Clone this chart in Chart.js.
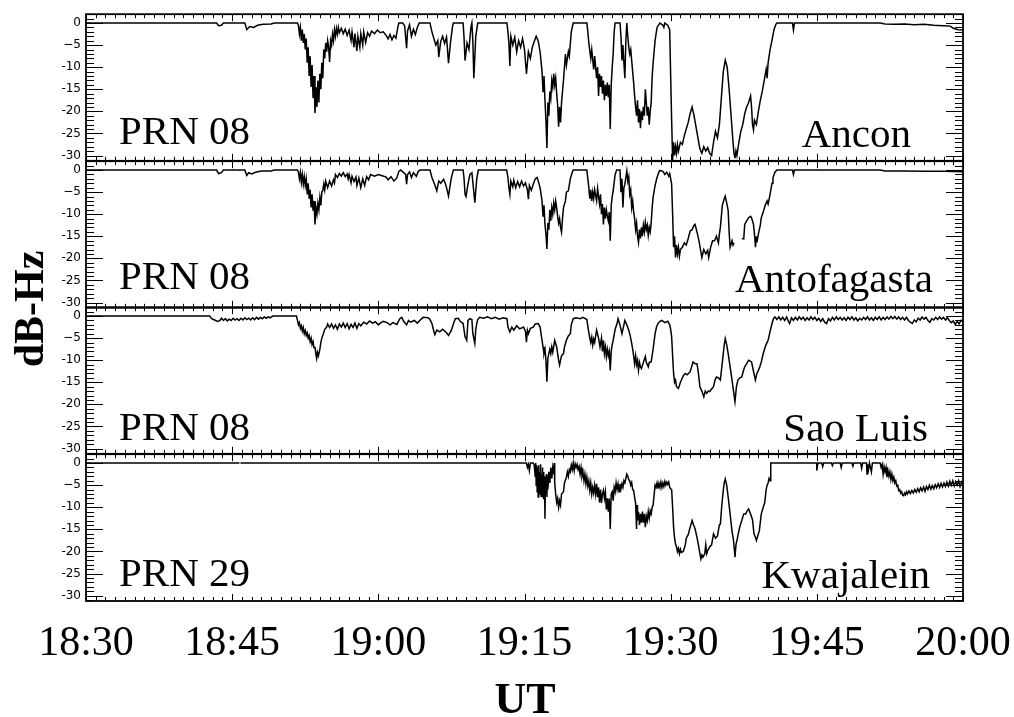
<!DOCTYPE html>
<html>
<head>
<meta charset="utf-8">
<script src="https://cdn.jsdelivr.net/npm/chart.js@4.4.1/dist/chart.umd.min.js"></script>
<style>
  html, body { margin: 0; padding: 0; background: #fff; }
  #fig { position: relative; width: 1014px; height: 717px; overflow: hidden; background: #fff; }
  #fig canvas { position: absolute; left: 0; }
  #overlay { pointer-events: none; }
</style>
</head>
<body>
<div id="fig">
  <canvas id="p0" width="1014" height="171" style="top:2px"></canvas>
  <canvas id="p1" width="1014" height="171" style="top:149px"></canvas>
  <canvas id="p2" width="1014" height="171" style="top:295px"></canvas>
  <canvas id="p3" width="1014" height="275" style="top:442px"></canvas>
  <canvas id="overlay" width="1014" height="717" style="top:0"></canvas>
</div>
<script>
// ---- axis ticks and labels ----
const timeTicks = [0, 15, 30, 45, 60, 75, 90];              // minutes after 18:30 UT
const timeTickLabels = ['18:30', '18:45', '19:00', '19:15', '19:30', '19:45', '20:00'];
const yTicks = [0, -5, -10, -15, -20, -25, -30];
const yTickLabels = ['0', '\u22125', '-10', '-15', '-20', '-25', '-30'];
const prnLabels = ['PRN 08', 'PRN 08', 'PRN 08', 'PRN 29'];
const stations = ['Ancon', 'Antofagasta', 'Sao Luis', 'Kwajalein'];

// ---- signal fading traces: [minutes after 18:30, dB-Hz] ----
const ancon = [
 [0,0],[13.4,0],[13.6,-0.6],[13.9,-0.5],[14.1,0],[16.3,0],[16.5,-1.5],[16.8,-0.8],[17.2,-1.0],[17.6,-0.5],[18.2,-0.3],[19.0,-0.2],[19.3,0],[21.7,0],
 [21.8,-0.5],[21.9,-2.5],[22.0,-1.0],[22.1,-4.0],[22.2,-1.5],[22.3,-4.5],[22.4,-2.5],[22.5,-6.0],[22.6,-3.5],[22.7,-9.0],[22.8,-5.5],[22.9,-12.0],
 [23.0,-7.5],[23.1,-14.5],[23.2,-9.5],[23.3,-17.0],[23.4,-12.0],[23.5,-20.4],[23.6,-14.5],[23.7,-19.0],[23.8,-13.0],[23.9,-18.0],[24.0,-11.5],
 [24.1,-15.0],[24.2,-9.0],[24.3,-12.5],[24.4,-6.0],[24.5,-8.0],[24.6,-4.5],[24.7,-6.5],[24.8,-4.0],[24.9,-5.5],[25.0,-8.8],[25.1,-4.0],[25.2,-5.0],
 [25.3,-2.5],[25.4,-4.0],[25.5,-1.5],[25.6,-3.0],[25.7,-1.2],[25.8,-2.5],[25.9,-1.0],[26.0,-2.2],[26.2,-1.2],[26.4,-2.4],[26.6,-1.4],[26.8,-2.8],
 [27.0,-1.6],[27.2,-4.0],[27.3,-2.0],[27.5,-5.5],[27.6,-2.4],[27.8,-6.3],[27.9,-3.0],[28.1,-5.5],[28.2,-2.4],[28.4,-5.0],[28.5,-2.0],[28.7,-4.4],
 [28.9,-2.2],[29.1,-3.0],[29.3,-1.8],[29.6,-2.4],[29.9,-1.6],[30.2,-2.2],[30.5,-2.0],[30.8,-2.8],[31.0,-3.6],[31.2,-2.6],[31.4,-3.8],[31.6,-2.8],
 [31.8,-3.4],[32.0,-1.0],[32.1,0],[32.5,0],[32.7,-0.6],[32.9,-5.7],[33.0,-1.8],[33.2,-0.4],[33.4,-3.0],[33.6,-1.4],[33.8,-2.6],[34.0,-1.0],[34.2,0],
 [35.3,0],[35.5,-2.0],[35.7,-3.5],[35.9,-5.0],[36.1,-4.0],[36.2,-7.7],[36.4,-4.2],[36.6,-3.0],[36.8,-4.6],[37.0,-3.2],[37.1,-6.0],[37.2,-9.1],
 [37.4,-4.5],[37.6,-1.0],[37.7,0],[38.7,0],[38.8,-3.5],[38.9,-8.5],[39.1,-4.5],[39.3,-6.0],[39.5,-1.0],[39.6,0],[39.7,-4.0],[39.8,-12.5],[40.0,-3.0],
 [40.2,0],[43.2,0],[43.3,-2.0],[43.4,-4.5],[43.5,-9.7],[43.6,-3.0],[43.8,-5.0],[44.0,-3.2],[44.2,-6.5],[44.4,-4.0],[44.6,-5.5],[44.8,-3.5],[45.0,-6.0],
 [45.2,-11.5],[45.4,-6.5],[45.6,-8.0],[45.8,-5.5],[46.0,-4.2],[46.2,-3.0],[46.4,-4.0],[46.6,-6.5],[46.8,-11.0],[46.9,-15.5],[47.0,-12.0],[47.1,-17.5],
 [47.2,-22.0],[47.3,-28.3],[47.4,-18.0],[47.5,-21.0],[47.6,-15.5],[47.7,-17.0],[47.8,-13.0],[47.9,-14.5],[48.0,-11.5],[48.1,-14.0],[48.2,-12.5],
 [48.3,-16.0],[48.4,-18.5],[48.5,-23.5],[48.6,-19.0],[48.7,-22.5],[48.8,-18.0],[49.0,-13.0],[49.2,-7.0],[49.3,-9.5],[49.5,-6.5],[49.6,-7.5],[49.8,-2.0],
 [50.0,0],[51.4,0],[51.5,-2.0],[51.6,-4.5],[51.8,-8.0],[51.9,-6.0],[52.1,-10.5],[52.2,-7.5],[52.4,-12.5],[52.5,-10.0],[52.6,-16.5],[52.7,-11.5],
 [52.8,-14.5],[52.9,-12.0],[53.0,-16.0],[53.1,-13.0],[53.2,-17.5],[53.3,-14.0],[53.4,-16.5],[53.5,-13.5],[53.6,-16.8],[53.7,-14.0],[53.8,-24.0],
 [53.9,-14.0],[54.0,-10.0],[54.1,-7.0],[54.2,-2.0],[54.3,0],[54.8,0],[54.9,-3.0],[55.0,-8.5],[55.1,-5.0],[55.2,-9.0],[55.3,-12.5],[55.4,-4.0],[55.5,0],
 [55.6,-3.0],[55.7,-5.5],[55.8,-7.0],[55.9,-6.0],[56.0,-8.5],[56.1,-11.0],[56.2,-13.5],[56.3,-16.5],[56.4,-19.0],[56.5,-21.0],[56.6,-17.5],[56.7,-22.5],
 [56.8,-19.5],[56.9,-23.8],[57.0,-20.0],[57.1,-22.0],[57.2,-19.0],[57.3,-21.0],[57.4,-15.0],[57.5,-18.0],[57.6,-21.0],[57.7,-19.0],[57.8,-23.0],
 [57.9,-20.0],[58.0,-18.0],[58.1,-12.2],[58.2,-9.0],[58.3,-6.5],[58.4,-4.0],[58.5,-2.5],[58.6,-1.0],[58.8,-0.3],[58.9,0],[59.2,-0.5],[59.3,-1.0],
 [59.4,0],[59.7,-0.5],[59.9,-1.5],[60.0,-12.0],[60.1,-22.0],[60.2,-31.0],[60.3,-27.0],[60.4,-30.0],[60.5,-28.0],[60.6,-29.5],[60.7,-27.5],[60.8,-29.0],
 [61.0,-27.0],[61.2,-27.5],[61.4,-25.5],[61.6,-24.0],[61.8,-22.5],[62.0,-20.5],[62.2,-19.0],[62.4,-21.0],[62.6,-23.5],[62.8,-26.0],[63.0,-28.5],
 [63.2,-29.5],[63.4,-28.0],[63.6,-29.0],[63.8,-28.2],[64.0,-29.5],[64.2,-30.0],[64.4,-27.0],[64.6,-24.5],[64.8,-26.0],[65.0,-23.0],[65.2,-17.0],
 [65.4,-11.0],[65.6,-8.4],[65.8,-10.0],[66.0,-15.0],[66.2,-21.0],[66.4,-27.0],[66.5,-29.5],[66.6,-30.6],[66.7,-29.0],[66.8,-30.0],[67.0,-27.0],
 [67.2,-24.5],[67.4,-23.0],[67.6,-20.5],[67.8,-19.0],[68.0,-18.0],[68.2,-16.5],[68.3,-19.0],[68.4,-23.0],[68.5,-24.2],[68.6,-22.0],[68.8,-23.0],
 [69.0,-20.0],[69.2,-17.5],[69.4,-15.5],[69.6,-13.0],[69.8,-10.5],[69.9,-12.5],[70.0,-9.0],[70.2,-6.0],[70.4,-3.9],[70.6,-1.5],[70.8,-0.3],[70.9,0],
 [72.5,0],[72.6,-1.6],[72.7,0],[81.5,0],[82.0,-0.2],[83.0,-0.3],[84.0,-0.2],[85.0,-0.4],[86.0,-0.3],[87.0,-0.5],[88.0,-0.6],[88.7,-0.7],[89.0,-1.2],
 [89.5,-1.5],[90,-1.6]
];

const antofagasta = [
 [0,0],[13.4,0],[13.6,-0.8],[13.9,-0.6],[14.1,0],[16.3,0],[16.5,-1.2],[16.7,-0.6],[17.0,-0.9],[17.4,-0.5],[18.0,-0.2],[19.0,-0.2],[19.3,0],[21.7,0],
 [21.8,-0.5],[21.9,-2.0],[22.0,-0.5],[22.1,-2.8],[22.2,-1.0],[22.3,-3.2],[22.4,-1.5],[22.5,-3.5],[22.6,-2.0],[22.7,-5.5],[22.8,-3.0],[22.9,-6.5],
 [23.0,-4.5],[23.1,-8.5],[23.2,-5.5],[23.3,-9.2],[23.4,-7.0],[23.5,-12.3],[23.6,-8.5],[23.7,-10.0],[23.8,-7.5],[23.9,-9.0],[24.0,-6.2],[24.1,-8.0],
 [24.2,-5.0],[24.3,-4.7],[24.4,-3.2],[24.5,-4.5],[24.6,-2.5],[24.8,-4.0],[25.0,-2.5],[25.2,-3.6],[25.4,-2.2],[25.5,-2.9],[25.6,-1.0],[25.8,-1.7],
 [26.0,-0.8],[26.2,-1.4],[26.4,-0.6],[26.6,-1.5],[26.8,-0.9],[26.9,-2.0],[27.0,-1.0],[27.2,-2.9],[27.3,-1.4],[27.5,-2.6],[27.7,-1.6],[27.8,-3.5],
 [28.0,-1.8],[28.2,-4.0],[28.4,-2.0],[28.6,-3.5],[28.8,-1.5],[29.0,-2.2],[29.2,-1.0],[29.6,-1.4],[30.0,-1.0],[30.4,-1.3],[30.8,-1.6],[31.0,-2.2],
 [31.3,-1.5],[31.6,-2.5],[31.9,-1.8],[32.1,-0.3],[32.3,0],[32.6,-0.6],[32.8,-1.0],[32.9,-3.2],[33.0,-1.0],[33.2,-0.4],[33.4,-1.7],[33.6,-0.6],
 [33.9,-1.4],[34.1,-0.3],[34.3,0],[35.3,0],[35.5,-1.7],[35.7,-2.8],[35.9,-4.0],[36.0,-4.7],[36.2,-2.5],[36.4,-3.0],[36.7,-2.1],[36.9,-3.2],[37.0,-4.0],
 [37.2,-5.9],[37.4,-3.0],[37.5,-1.7],[37.7,0],[38.7,0],[38.8,-2.0],[38.9,-5.5],[39.0,-6.0],[39.2,-3.2],[39.4,-1.0],[39.6,-0.6],[39.8,-5.0],[39.9,-7.4],
 [40.1,-2.0],[40.26,0],[43.17,0],[43.3,-1.7],[43.4,-4.0],[43.5,-5.5],[43.6,-2.5],[43.8,-3.8],[43.9,-2.3],[44.1,-4.0],[44.3,-2.6],[44.5,-3.8],
 [44.7,-2.5],[44.9,-3.6],[45.1,-2.9],[45.3,-4.5],[45.4,-6.6],[45.5,-3.5],[45.7,-4.6],[45.9,-3.2],[46.1,-2.0],[46.3,-1.7],[46.4,-2.4],[46.6,-4.0],
 [46.8,-7.0],[46.9,-10.4],[47.0,-8.0],[47.1,-12.3],[47.2,-14.5],[47.3,-17.9],[47.4,-12.0],[47.5,-13.5],[47.6,-9.0],[47.7,-11.5],[47.8,-8.5],
 [47.9,-10.0],[48.0,-7.5],[48.1,-9.0],[48.2,-7.0],[48.3,-8.5],[48.4,-10.5],[48.5,-12.0],[48.6,-11.0],[48.7,-13.0],[48.8,-14.1],[48.9,-11.0],
 [49.0,-8.5],[49.2,-7.0],[49.3,-5.0],[49.5,-4.7],[49.7,-2.0],[49.9,-0.5],[50.0,0],[51.4,0],[51.5,-2.0],[51.6,-4.0],[51.7,-6.5],[51.8,-4.5],[51.9,-7.0],
 [52.0,-5.0],[52.1,-6.5],[52.2,-4.5],[52.4,-7.0],[52.5,-4.2],[52.6,-6.0],[52.7,-7.7],[52.8,-5.5],[52.9,-10.0],[53.0,-7.7],[53.1,-12.3],[53.2,-8.5],
 [53.3,-11.0],[53.4,-9.0],[53.5,-10.4],[53.6,-11.5],[53.7,-9.5],[53.8,-16.0],[53.9,-8.0],[54.0,-6.0],[54.1,-4.7],[54.3,-1.0],[54.46,0],[54.8,0],
 [54.9,-5.0],[55.0,-2.0],[55.1,-8.5],[55.2,-4.0],[55.3,-3.2],[55.4,-1.7],[55.5,-0.2],[55.6,-2.5],[55.7,-1.5],[55.8,-5.5],[55.9,-4.5],[56.0,-8.5],
 [56.1,-7.0],[56.2,-9.5],[56.3,-11.0],[56.4,-13.5],[56.5,-12.0],[56.6,-15.0],[56.7,-16.4],[56.8,-13.5],[56.9,-15.5],[57.0,-13.0],[57.1,-15.0],
 [57.2,-12.5],[57.3,-14.0],[57.4,-11.8],[57.5,-13.5],[57.6,-12.5],[57.7,-14.8],[57.8,-13.0],[57.9,-14.0],[58.0,-12.0],[58.1,-8.5],[58.2,-6.2],
 [58.4,-3.5],[58.6,-1.7],[58.8,-0.4],[58.9,-0.1],[59.2,-0.3],[59.4,-1.0],[59.6,-0.5],[59.8,-1.4],[59.9,-0.8],[60.1,-3.2],[60.2,-10.0],[60.3,-17.5],
 [60.4,-15.0],[60.5,-19.8],[60.6,-17.0],[60.7,-19.0],[60.8,-17.5],[60.9,-19.5],[61.0,-18.0],[61.2,-17.5],[61.4,-16.5],[61.6,-17.0],[61.8,-15.5],
 [62.0,-13.8],[62.2,-13.5],[62.4,-12.5],[62.5,-12.3],[62.7,-14.0],[62.9,-16.0],[63.1,-18.5],[63.2,-19.8],[63.4,-18.0],[63.6,-19.0],[63.8,-18.2],
 [63.9,-19.8],[64.1,-17.5],[64.3,-16.0],[64.5,-16.0],[64.7,-15.0],[64.9,-16.5],[65.0,-14.5],[65.1,-13.0],[65.3,-8.0],[65.5,-6.5],[65.6,-5.9],
 [65.8,-8.0],[65.9,-9.2],[66.0,-14.0],[66.1,-17.5],[66.3,-16.0],[66.4,-17.0],[66.5,-16.5],[66.6,null],[67.3,-15.5],[67.5,-15.6],[67.6,-12.3],
 [67.8,-11.5],[68.0,-10.8],[68.2,-10.5],[68.3,-10.8],[68.5,-12.3],[68.6,-14.5],[68.7,-17.5],[68.8,-15.0],[68.85,-16.4],[69.0,-14.5],[69.2,-12.5],
 [69.3,-10.8],[69.5,-9.5],[69.7,-8.0],[69.9,-7.0],[70.0,-7.7],[70.2,-5.5],[70.4,-3.0],[70.5,-1.7],[70.7,-0.5],[70.9,0],[72.5,0],[72.6,-1.0],[72.7,0],
 [81.5,0],[82.0,-0.2],[84,-0.2],[86,-0.3],[88,-0.3],[90,-0.4]
];

const saoLuis = [
 [0,0],[12.7,0],[12.8,-0.3],[12.9,-0.6],[13.2,-0.9],[13.5,-1.2],[13.75,-1.0],[13.9,-0.5],[14.1,-1.0],[14.3,-0.6],[14.5,-1.1],[14.7,-0.7],[14.9,-1.0],
 [15.1,-0.5],[15.3,-0.9],[15.5,-0.6],[15.7,-1.0],[15.9,-0.5],[16.1,-0.9],[16.3,-0.4],[16.5,-0.8],[16.7,-0.5],[16.9,-0.9],[17.1,-0.4],[17.3,-0.8],
 [17.5,-0.3],[17.7,-0.7],[17.9,-0.3],[18.1,-0.6],[18.3,-0.2],[18.5,-0.5],[18.7,-0.2],[18.9,-0.4],[19.1,-0.1],[19.2,0],[21.6,0],
 [21.7,-1.0],[21.8,-2.0],[21.9,-1.5],[22.0,-2.8],[22.1,-2.2],[22.2,-3.4],[22.3,-2.6],[22.4,-4.0],[22.5,-3.3],[22.6,-4.4],[22.7,-3.8],[22.8,-5.0],
 [22.9,-4.4],[23.0,-5.8],[23.1,-5.0],[23.2,-6.5],[23.3,-5.8],[23.4,-7.2],[23.5,-7.0],[23.6,-8.8],[23.67,-9.6],[23.75,-8.2],[23.85,-9.0],[24.0,-7.5],
 [24.1,-6.0],[24.2,-5.0],[24.36,-4.0],[24.5,-3.0],[24.7,-2.5],[24.8,-1.8],[25.0,-2.6],[25.2,-1.8],[25.4,-2.8],[25.6,-2.0],[25.8,-3.0],[26.0,-1.8],
 [26.2,-2.5],[26.4,-1.6],[26.6,-2.6],[26.8,-1.7],[27.0,-2.9],[27.2,-1.9],[27.4,-2.6],[27.6,-1.6],[27.8,-2.8],[28.0,-1.7],[28.2,-2.2],[28.5,-1.4],
 [28.8,-1.8],[29.1,-1.1],[29.4,-1.6],[29.7,-1.3],[30.0,-2.0],[30.2,-1.6],[30.5,-1.2],[30.9,-1.5],[31.2,-2.0],[31.5,-1.5],[31.9,-1.9],[32.2,-0.6],
 [32.4,-0.3],[32.6,-1.2],[32.9,-2.0],[33.1,-1.0],[33.3,-1.4],[33.7,-1.0],[34.0,-1.6],[34.3,-0.9],[34.6,-0.3],[35.1,-0.4],[35.3,-0.8],[35.5,-1.7],
 [35.7,-3.5],[35.8,-4.2],[36.0,-3.2],[36.3,-3.6],[36.6,-3.0],[37.0,-3.8],[37.2,-4.4],[37.5,-3.2],[37.7,-1.8],[37.9,-0.6],[38.2,-0.5],[38.4,-1.2],
 [38.7,-1.7],[38.8,-3.2],[38.9,-4.7],[39.07,-5.5],[39.2,-1.0],[39.4,-0.6],[39.6,-0.8],[39.7,-4.0],[39.9,-6.2],[40.0,-3.0],[40.1,-1.7],[40.2,-0.8],
 [40.4,-0.3],[40.8,-0.5],[41.2,-0.2],[41.6,-0.6],[42.0,-0.3],[42.4,-0.7],[42.8,-0.4],[43.2,-0.6],[43.3,-2.5],[43.5,-3.6],[43.7,-2.5],[43.9,-3.2],
 [44.2,-2.2],[44.5,-2.9],[44.9,-2.5],[45.1,-3.5],[45.2,-5.9],[45.3,-3.2],[45.4,-4.0],[45.6,-2.8],[45.9,-2.5],[46.1,-1.8],[46.4,-1.7],[46.6,-2.5],
 [46.8,-5.5],[46.9,-7.0],[47.0,-8.5],[47.1,-7.5],[47.2,-10.0],[47.3,-14.9],[47.4,-9.5],[47.5,-8.5],[47.6,-7.5],[47.7,-8.5],[47.8,-7.0],[47.9,-8.2],
 [48.1,-5.5],[48.3,-7.0],[48.4,-8.5],[48.5,-10.0],[48.6,-11.1],[48.7,-10.0],[48.8,-9.0],[49.0,-8.5],[49.1,-7.0],[49.3,-5.5],[49.5,-4.5],[49.7,-4.0],
 [49.8,-2.0],[50.0,-0.6],[50.3,-0.4],[50.7,-0.6],[51.0,-0.3],[51.4,-0.8],[51.56,-3.2],[51.7,-5.0],[51.8,-6.0],[51.9,-4.8],[52.0,-6.6],[52.1,-5.2],
 [52.2,-6.0],[52.4,-3.2],[52.6,-5.0],[52.75,-7.0],[52.9,-5.0],[53.0,-8.0],[53.1,-5.5],[53.2,-8.5],[53.3,-7.0],[53.4,-9.2],[53.5,-7.5],[53.6,-9.0],
 [53.7,-8.0],[53.8,-12.3],[53.9,-8.0],[54.0,-6.5],[54.1,-5.5],[54.3,-3.0],[54.5,-1.7],[54.6,-0.6],[54.8,-2.0],[55.0,-4.0],[55.2,-2.0],[55.3,-1.0],
 [55.5,-2.0],[55.7,-3.2],[55.85,-4.5],[56.0,-6.2],[56.1,-7.5],[56.2,-9.0],[56.3,-10.8],[56.4,-9.0],[56.5,-11.0],[56.6,-10.0],[56.7,-12.3],[56.8,-10.5],
 [56.9,-11.5],[57.0,-11.9],[57.2,-10.5],[57.4,-9.2],[57.5,-10.5],[57.7,-11.5],[57.8,-10.5],[58.0,-10.4],[58.2,-7.5],[58.4,-4.0],[58.55,-2.5],
 [58.7,-1.7],[58.9,-1.2],[59.1,-1.0],[59.4,-1.5],[59.7,-1.2],[59.9,-2.0],[60.0,-3.0],[60.1,-4.7],[60.2,-9.0],[60.3,-13.0],[60.4,-15.0],[60.5,-14.5],
 [60.6,-16.0],[60.8,-16.4],[61.0,-15.0],[61.1,-14.5],[61.3,-13.5],[61.5,-13.0],[61.7,-13.3],[62.0,-12.6],[62.15,-11.5],[62.3,-10.4],[62.5,-10.8],
 [62.7,-10.8],[62.85,-13.0],[63.0,-16.0],[63.2,-17.0],[63.4,-18.3],[63.55,-17.0],[63.7,-17.5],[63.85,-17.0],[64.0,-17.1],[64.2,-16.5],[64.4,-16.0],
 [64.55,-14.5],[64.7,-13.8],[64.9,-14.0],[65.1,-14.5],[65.25,-11.5],[65.4,-8.5],[65.5,-6.5],[65.6,-5.1],[65.75,-6.5],[65.9,-8.5],[66.1,-11.5],
 [66.3,-14.5],[66.45,-17.0],[66.6,-19.4],[66.75,-16.0],[66.9,-14.5],[67.1,-14.0],[67.3,-13.8],[67.45,-12.5],[67.6,-11.5],[67.8,-10.8],[68.0,-10.0],
 [68.15,-10.2],[68.3,-10.4],[68.5,-12.5],[68.7,-14.5],[68.85,-13.0],[69.0,-12.3],[69.15,-11.5],[69.3,-10.4],[69.5,-8.5],[69.7,-7.0],[69.85,-6.2],
 [70.0,-5.5],[70.2,-3.5],[70.4,-1.7],[70.55,-0.6],[70.7,-0.2],[70.9,-0.8],[71.1,-0.2],[71.3,-0.9],[71.5,-0.3],[71.7,-1.0],[71.9,-0.2],[72.1,-1.3],
 [72.2,-1.7],[72.4,-0.4],[72.6,-1.0],[72.8,-0.3],[73.0,-0.9],[73.2,-0.2],[73.4,-0.8],[73.6,-0.3],[73.8,-1.0],[74.0,-0.4],[74.2,-0.9],[74.4,-0.2],
 [74.6,-0.8],[74.8,-0.3],[75.0,-1.0],[75.2,-0.5],[75.4,-1.2],[75.6,-0.6],[75.8,-1.4],[76.0,-1.7],[76.2,-0.6],[76.4,-1.1],[76.6,-0.3],[76.8,-0.9],
 [77.0,-0.2],[77.2,-0.8],[77.4,-0.3],[77.6,-0.9],[77.8,-0.4],[78.0,-1.0],[78.2,-0.3],[78.4,-0.8],[78.6,-0.2],[78.8,-0.9],[79.0,-0.4],[79.2,-1.1],
 [79.4,-0.5],[79.6,-0.9],[79.8,-0.3],[80.0,-0.8],[80.2,-0.2],[80.4,-0.9],[80.6,-0.4],[80.8,-1.0],[81.0,-0.3],[81.2,-0.8],[81.4,-0.2],[81.6,-0.9],
 [81.8,-0.3],[82.0,-0.8],[82.2,-0.2],[82.4,-0.7],[82.6,-0.1],[82.8,-0.6],[83.0,-0.1],[83.2,-0.7],[83.4,-0.2],[83.6,-0.8],[83.8,-0.3],[84.0,-0.9],
 [84.2,-0.3],[84.4,-1.0],[84.6,-1.4],[84.8,-1.7],[85.0,-0.9],[85.2,-1.3],[85.4,-0.5],[85.6,-0.9],[85.8,-0.2],[86.0,-0.7],[86.2,-0.3],[86.4,-1.0],
 [86.6,-1.4],[86.8,-0.6],[87.0,-0.9],[87.2,-0.3],[87.4,-0.8],[87.6,-0.2],[87.8,-0.7],[88.0,-0.3],[88.2,-0.9],[88.4,-0.4],[88.6,-1.0],[88.8,-1.5],
 [89.0,-1.1],[89.2,-1.9],[89.4,-1.2],[89.6,-1.8],[89.8,-1.0],[90.0,-1.3]
];

const kwajalein = [
 [0,0],[15.75,0],[15.8,null],[15.85,0],[45.2,0],[45.3,-1.0],[45.4,-0.3],[45.5,-1.7],[45.6,0],[45.9,0],[46.0,-0.5],[46.1,-3.0],[46.15,0],[46.2,-5.0],
 [46.25,-0.5],[46.3,-6.5],[46.35,-1.0],[46.4,-7.7],[46.45,-0.5],[46.5,-7.0],[46.55,-2.0],[46.6,-6.0],[46.65,-0.3],[46.7,-7.5],[46.75,-2.5],[46.8,-5.5],
 [46.85,-1.0],[46.9,-7.7],[46.95,-2.0],[47.0,-8.0],[47.05,-3.0],[47.1,-12.6],[47.15,-3.5],[47.2,-7.0],[47.25,-2.5],[47.3,-7.7],[47.35,-3.0],
 [47.4,-6.0],[47.5,-2.0],[47.6,-4.5],[47.7,-1.0],[47.8,-3.5],[47.9,-1.0],[48.0,-2.5],[48.05,0],[48.1,-4.5],[48.2,-7.0],[48.3,-8.9],[48.4,-8.0],
 [48.5,-10.0],[48.6,-8.5],[48.7,-9.5],[48.8,-7.0],[49.0,-6.5],[49.1,-4.5],[49.3,-3.2],[49.4,-2.0],[49.5,-3.0],[49.6,-1.5],[49.7,-2.0],[49.8,-0.5],
 [49.9,-1.5],[50.0,0],[50.1,-1.7],[50.2,-0.2],[50.3,-1.0],[50.4,-0.3],[50.5,-1.5],[50.6,-0.8],[50.7,-2.5],[50.8,-1.0],[50.9,-3.0],[51.0,-2.0],
 [51.1,-4.0],[51.2,-2.5],[51.3,-4.7],[51.4,-3.2],[51.5,-5.2],[51.6,-4.0],[51.7,-6.2],[51.8,-4.5],[51.9,-7.0],[52.0,-5.5],[52.1,-6.8],[52.2,-5.0],
 [52.3,-7.0],[52.4,-4.7],[52.5,-7.7],[52.6,-5.5],[52.7,-8.9],[52.8,-6.0],[52.9,-9.0],[53.0,-7.0],[53.1,-6.2],[53.2,-8.0],[53.3,-6.5],[53.4,-10.5],
 [53.5,-8.0],[53.6,-11.0],[53.7,-8.0],[53.8,-14.9],[53.9,-7.0],[54.0,-6.5],[54.1,-8.5],[54.2,-5.5],[54.3,-6.5],[54.4,-4.5],[54.5,-6.0],[54.6,-4.7],
 [54.7,-6.5],[54.8,-4.7],[54.9,-5.8],[55.0,-4.7],[55.1,-5.5],[55.2,-4.0],[55.3,-4.5],[55.5,-2.5],[55.6,-3.0],[55.7,-3.8],[55.8,-4.0],[55.9,-5.0],
 [56.0,-4.4],[56.1,-6.0],[56.2,-6.2],[56.3,-7.7],[56.4,-9.0],[56.45,-12.0],[56.5,-14.9],[56.55,-9.5],[56.6,-13.0],[56.7,-11.0],[56.8,-14.0],
 [56.9,-11.5],[57.0,-13.5],[57.1,-11.0],[57.2,-13.5],[57.3,-11.5],[57.4,-14.5],[57.5,-12.0],[57.6,-13.0],[57.7,-11.0],[57.8,-12.5],[57.9,-10.8],
 [58.0,-11.5],[58.1,-10.0],[58.2,-9.5],[58.4,-5.0],[58.5,-5.5],[58.6,-4.5],[58.7,-5.8],[58.8,-4.6],[58.9,-5.5],[59.0,-4.3],[59.1,-5.5],[59.2,-4.5],
 [59.3,-5.3],[59.4,-4.2],[59.5,-5.0],[59.6,-4.3],[59.7,-4.8],[59.8,-4.3],[59.9,-5.5],[60.0,-5.8],[60.1,-6.0],[60.2,-10.0],[60.3,-14.5],[60.4,-17.0],
 [60.5,-18.3],[60.6,-19.0],[60.7,-20.0],[60.8,-19.3],[60.9,-20.5],[61.0,-19.5],[61.1,-20.2],[61.3,-20.0],[61.5,-18.5],[61.6,-17.0],[61.8,-16.2],
 [62.0,-14.5],[62.2,-13.0],[62.35,-14.0],[62.5,-14.8],[62.7,-16.8],[62.85,-18.5],[63.0,-20.5],[63.1,-21.7],[63.2,-20.8],[63.3,-21.3],[63.5,-20.5],
 [63.6,-18.5],[63.7,-20.5],[63.8,-19.8],[64.0,-19.0],[64.2,-18.5],[64.4,-16.0],[64.6,-17.0],[64.8,-16.5],[65.0,-14.0],[65.1,-13.8],[65.25,-9.5],
 [65.4,-6.2],[65.5,-4.5],[65.6,-3.6],[65.75,-5.0],[65.9,-7.7],[66.1,-11.5],[66.3,-15.5],[66.45,-17.5],[66.55,-20.0],[66.6,-21.3],[66.7,-18.5],
 [66.85,-17.0],[67.0,-15.3],[67.15,-14.0],[67.3,-13.0],[67.5,-11.5],[67.7,-11.5],[67.85,-10.8],[68.0,-10.4],[68.2,-11.5],[68.4,-12.8],[68.55,-16.0],
 [68.7,-16.8],[68.8,-17.5],[68.95,-16.4],[69.1,-15.3],[69.3,-11.5],[69.5,-10.0],[69.65,-9.0],[69.8,-6.0],[69.9,-5.0],[70.0,-4.5],[70.1,-3.5],
 [70.2,-4.0],[70.27,0],[74.98,0],[75.0,-1.7],[75.1,0],[75.5,0],[75.6,-0.8],[75.7,0],[76.5,0],[76.6,-0.6],[76.7,0],[77.4,0],[77.5,-1.0],[77.6,0],
 [78.6,0],[78.7,-0.7],[78.8,0],[79.5,0],[79.6,-1.2],[79.7,0],[80.1,0],[80.15,-2.5],[80.2,-0.3],[80.3,-1.5],[80.4,0],[80.6,-2.0],[80.7,0],[81.5,0],
 [81.6,-1.0],[81.7,-0.3],[81.8,-2.5],[81.9,-0.8],[82.0,-2.0],[82.1,-1.0],[82.2,-3.2],[82.3,-1.7],[82.4,-3.0],[82.5,-2.0],[82.6,-3.7],[82.7,-2.5],
 [82.8,-4.0],[82.9,-3.2],[83.0,-4.5],[83.1,-4.0],[83.2,-5.2],[83.3,-5.0],[83.4,-6.2],[83.5,-6.0],[83.6,-6.8],[83.7,-6.5],[83.8,-7.3],[83.9,-7.4],
 [84.0,-6.8],[84.1,-7.2],[84.2,-6.5],[84.3,-7.0],[84.45,-6.3],[84.6,-6.9],[84.75,-6.2],[84.9,-6.8],[85.05,-6.0],[85.2,-6.6],[85.35,-5.8],[85.5,-6.5],
 [85.65,-5.6],[85.8,-6.3],[85.95,-5.4],[86.1,-6.4],[86.25,-5.3],[86.4,-6.0],[86.55,-5.0],[86.7,-5.9],[86.85,-5.1],[87.0,-5.8],[87.15,-4.9],[87.3,-5.6],
 [87.45,-4.7],[87.6,-5.5],[87.75,-4.6],[87.9,-5.4],[88.05,-4.5],[88.2,-5.3],[88.35,-4.3],[88.5,-5.2],[88.65,-4.1],[88.8,-5.0],[88.95,-4.0],[89.1,-5.2],
 [89.25,-4.2],[89.4,-5.0],[89.55,-4.0],[89.7,-5.3],[89.85,-4.3],[90.0,-4.8]
];

const traces = [ancon, antofagasta, saoLuis, kwajalein];

// ---- layout ----
const SERIF = '"Liberation Serif", "Times New Roman", serif';
const PANEL_H = 147;
const PAD = 12;
// text placement inside each panel (pixels from the panel's left / bottom edge)
const prnPos = [[119, 17], [119, 19], [119, 14], [119, 15]];
const stationPos = [[911, 14], [933, 16], [928, 13], [930, 13]];

Chart.defaults.font.family = '"DejaVu Sans", sans-serif';
Chart.defaults.color = '#000';

// frame, inward tick marks on all four sides, and the in-panel captions
const panelDecor = {
  id: 'panelDecor',
  afterDraw(chart, args, opts) {
    const { ctx, chartArea: a, scales: { x, y } } = chart;
    ctx.save();
    ctx.strokeStyle = '#000';
    ctx.lineWidth = 1;
    ctx.beginPath();
    for (let v = -31; v <= 2; v++) {
      const py = Math.round(y.getPixelForValue(v)) + 0.5;
      const len = v % 5 === 0 ? 17 : 8;
      ctx.moveTo(a.left, py); ctx.lineTo(a.left + len, py);
      ctx.moveTo(a.right, py); ctx.lineTo(a.right - len, py);
    }
    for (let m = 0; m <= 90; m++) {
      const px = Math.round(x.getPixelForValue(m)) + 0.5;
      const len = m % 15 === 0 ? 7 : 4;
      ctx.moveTo(px, a.top); ctx.lineTo(px, a.top + len);
      ctx.moveTo(px, a.bottom); ctx.lineTo(px, a.bottom - len);
    }
    ctx.stroke();
    ctx.lineWidth = 1.8;
    ctx.strokeRect(a.left, a.top, a.right - a.left, a.bottom - a.top);

    const i = opts.index;
    ctx.fillStyle = '#000';
    ctx.font = '41px ' + SERIF;
    ctx.textBaseline = 'alphabetic';
    ctx.textAlign = 'left';
    ctx.fillText(prnLabels[i], prnPos[i][0], a.bottom - prnPos[i][1]);
    ctx.textAlign = 'right';
    ctx.fillText(stations[i], stationPos[i][0], a.bottom - stationPos[i][1]);
    ctx.restore();
  }
};

function makePanel(i) {
  const last = i === traces.length - 1;
  return new Chart(document.getElementById('p' + i), {
    type: 'line',
    data: {
      datasets: [{
        label: stations[i],
        data: traces[i],
        borderColor: '#000',
        borderWidth: 1.5,
        pointRadius: 0,
        tension: 0,
        spanGaps: false
      }]
    },
    options: {
      responsive: false,
      animation: false,
      events: [],
      devicePixelRatio: 1,
      layout: { padding: { left: 0, right: 51, top: PAD, bottom: last ? 0 : PAD } },
      plugins: { legend: { display: false }, tooltip: { enabled: false }, panelDecor: { index: i } },
      scales: {
        x: {
          type: 'linear',
          min: 0,
          max: 90,
          display: last,
          grid: { display: false, drawTicks: false },
          border: { display: false },
          afterBuildTicks: s => { s.ticks = timeTicks.map(v => ({ value: v })); },
          afterFit: s => {
            if (last) s.height = 275 - PAD - PANEL_H;
            s.paddingLeft = 0;
            s.paddingRight = 0;
          },
          ticks: {
            autoSkip: false,
            maxRotation: 0,
            padding: 18,
            font: { family: SERIF, size: 42 },
            color: '#000',
            callback: v => timeTickLabels[timeTicks.indexOf(v)]
          }
        },
        y: {
          type: 'linear',
          min: -31.2,
          max: 2,
          grid: { display: false, drawTicks: false },
          border: { display: false },
          afterBuildTicks: s => { s.ticks = yTicks.map(v => ({ value: v })); },
          afterFit: s => { s.width = 86; },
          ticks: {
            padding: 5,
            font: { family: '"DejaVu Sans", sans-serif', size: 12 },
            color: '#000',
            callback: v => yTickLabels[yTicks.indexOf(v)]
          }
        }
      }
    },
    plugins: [panelDecor]
  });
}

traces.forEach((_, i) => makePanel(i));

// shared axis titles
const oc = document.getElementById('overlay').getContext('2d');
oc.fillStyle = '#000';
oc.textBaseline = 'alphabetic';
oc.textAlign = 'center';
oc.font = 'bold 44px ' + SERIF;
oc.fillText('UT', 525, 713);
oc.save();
oc.translate(43, 309);
oc.rotate(-Math.PI / 2);
oc.font = 'bold 42px ' + SERIF;
oc.fillText('dB-Hz', 0, 0);
oc.restore();
</script>
</body>
</html>
